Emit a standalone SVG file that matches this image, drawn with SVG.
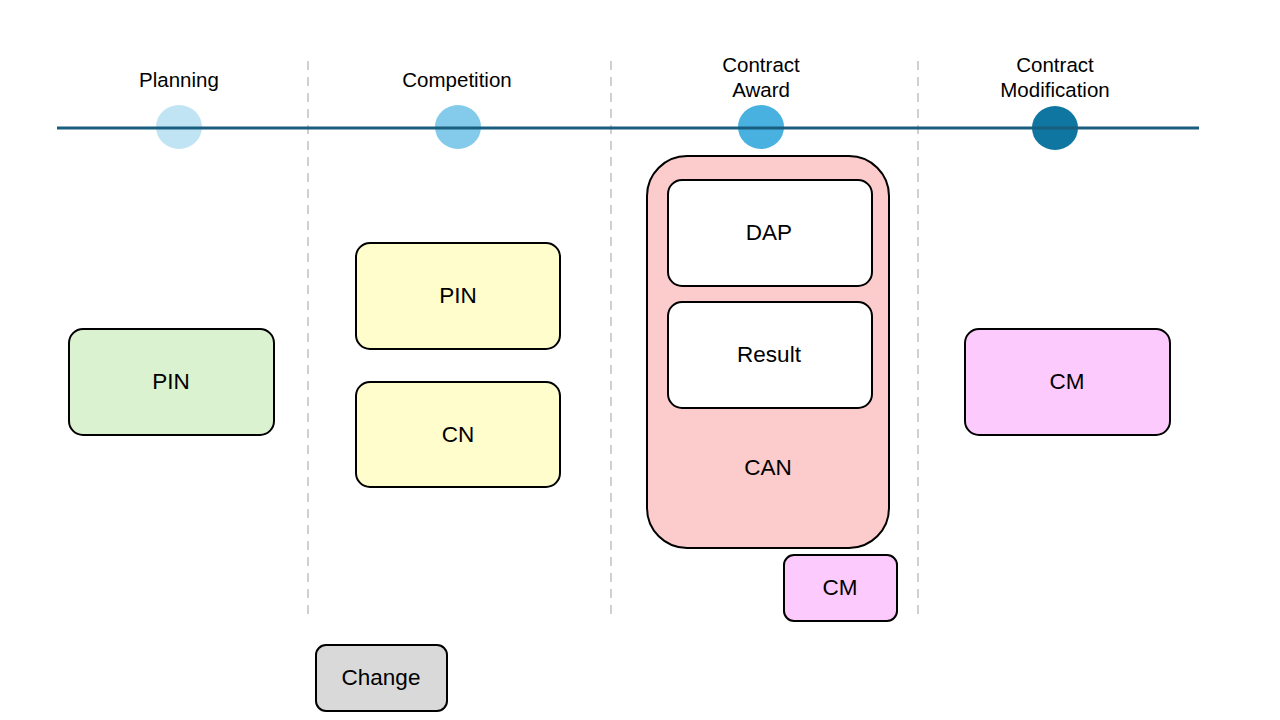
<svg xmlns="http://www.w3.org/2000/svg" width="1280" height="720" viewBox="0 0 1280 720">
<style>
text{font-family:"Liberation Sans",Arial,sans-serif;fill:#000;text-anchor:middle;dominant-baseline:central}
.lbl{font-size:20.5px}
.box{stroke:#000;stroke-width:2}
.bt{font-size:22.5px}
.div{stroke:#d0d0d0;stroke-width:2;stroke-dasharray:9,7;fill:none}
</style>
<rect width="1280" height="720" fill="#fff"/>
<g id="dividers">
<line class="div" x1="308" y1="61" x2="308" y2="615"/>
<line class="div" x1="611" y1="61" x2="611" y2="615"/>
<line class="div" x1="918" y1="61" x2="918" y2="615"/>
</g>
<g id="timeline">
<ellipse cx="179" cy="127" rx="23" ry="22" fill="#c1e4f5"/>
<ellipse cx="458" cy="127" rx="23" ry="22" fill="#84cbeb"/>
<ellipse cx="761" cy="127" rx="23" ry="22" fill="#48b1e0"/>
<ellipse cx="1055" cy="128" rx="23" ry="22" fill="#0e76a1"/>
<line x1="57" y1="128" x2="1199" y2="128" stroke="#195e7e" stroke-width="3"/>
</g>
<g id="phase-labels">
<text class="lbl" x="179" y="79">Planning</text>
<text class="lbl" x="457" y="79">Competition</text>
<text class="lbl" x="761" y="64">Contract</text>
<text class="lbl" x="761" y="89">Award</text>
<text class="lbl" x="1055" y="64">Contract</text>
<text class="lbl" x="1055" y="89">Modification</text>
</g>
<g id="pin-planning">
<rect class="box" x="69" y="329" width="205" height="106" rx="14" fill="#daf2d0"/>
<text class="bt" x="171" y="381">PIN</text>
</g>
<g id="pin-competition">
<rect class="box" x="356" y="243" width="204" height="106" rx="14" fill="#fefdcb"/>
<text class="bt" x="458" y="295">PIN</text>
</g>
<g id="cn">
<rect class="box" x="356" y="382" width="204" height="105" rx="14" fill="#fefdcb"/>
<text class="bt" x="458" y="434">CN</text>
</g>
<g id="can">
<rect class="box" x="647" y="156" width="242" height="392" rx="40" fill="#fccbcb"/>
<text class="bt" x="768" y="467">CAN</text>
</g>
<g id="dap">
<rect class="box" x="668" y="180" width="204" height="106" rx="14" fill="#fff"/>
<text class="bt" x="769" y="232">DAP</text>
</g>
<g id="result">
<rect class="box" x="668" y="302" width="204" height="106" rx="14" fill="#fff"/>
<text class="bt" x="769" y="354">Result</text>
</g>
<g id="cm-small">
<rect class="box" x="784" y="555" width="113" height="66" rx="10" fill="#fdcafd"/>
<text class="bt" x="840" y="587">CM</text>
</g>
<g id="cm-right">
<rect class="box" x="965" y="329" width="205" height="106" rx="14" fill="#fdcafd"/>
<text class="bt" x="1067" y="381">CM</text>
</g>
<g id="change">
<rect class="box" x="316" y="645" width="131" height="66" rx="10" fill="#d9d9d9"/>
<text class="bt" x="381" y="677">Change</text>
</g>
<g id="connectors"></g>
</svg>
